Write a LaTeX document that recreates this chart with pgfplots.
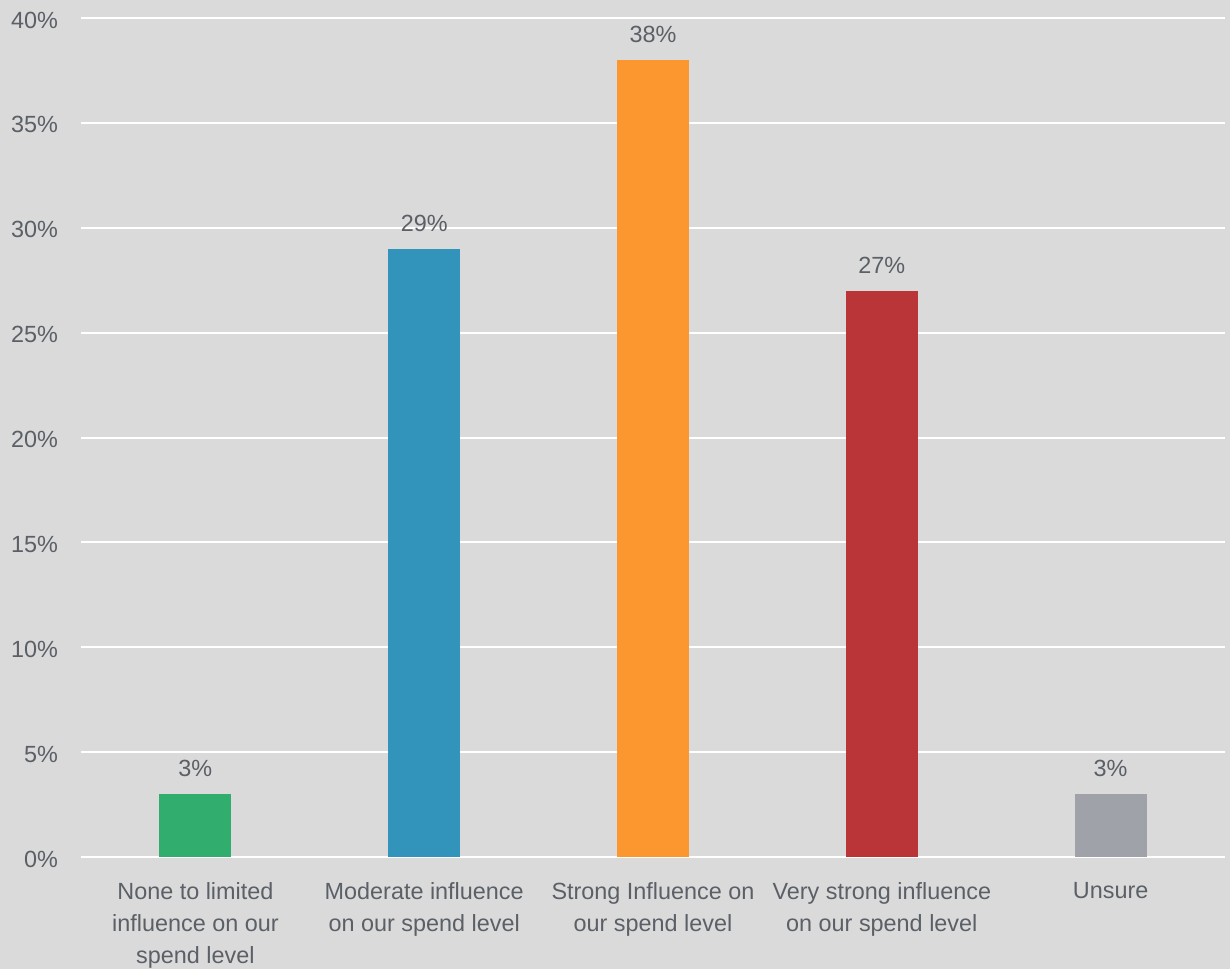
\documentclass[border=0pt]{standalone}
\usepackage{pgfplots}
\pgfplotsset{compat=1.18}
\usepackage{fontspec}
\setmainfont{Liberation Sans}
\definecolor{bg}{HTML}{DADADA}
\definecolor{txt}{HTML}{5B6067}
\definecolor{cgreen}{HTML}{31AD6E}
\definecolor{cblue}{HTML}{3294BA}
\definecolor{corange}{HTML}{FC962E}
\definecolor{cred}{HTML}{BA3537}
\definecolor{cgray}{HTML}{9FA2A8}
\begin{document}
\begin{tikzpicture}
\fill[bg] (-40.5pt,-56pt) rectangle (574.5pt,428.5pt);
\begin{axis}[
  scale only axis,
  width=572pt, height=419.5pt,
  xmin=-0.5, xmax=4.5, ymin=0, ymax=40,
  axis line style={draw=none},
  tick style={draw=none},
  ytick={0,5,...,40},
  yticklabel={\pgfmathprintnumber{\tick}\%},
  /pgf/number format/assume math mode=true,
  ymajorgrids,
  grid style={white, line width=1pt},
  xtick={0,1,2,3,4},
  xticklabels={{None to limited\\influence on our\\spend level},{Moderate influence\\on our spend level},{Strong Influence on\\our spend level},{Very strong influence\\on our spend level},{Unsure}},
  xticklabel style={align=center, font=\fontsize{11.7}{16}\selectfont, text=txt, yshift=-5pt},
  yticklabel style={font=\fontsize{11.7}{14}\selectfont, text=txt, xshift=-8pt, yshift=-1pt},
  ybar, bar width=36pt, bar shift=0pt,
  nodes near coords={\pgfmathprintnumber{\pgfplotspointmeta}\%},
  nodes near coords style={font=\fontsize{11.7}{14}\selectfont, text=txt, yshift=5pt},
  clip=false,
]
\addplot[fill=cgreen, draw=none] coordinates {(0,3)};
\addplot[fill=cblue, draw=none] coordinates {(1,29)};
\addplot[fill=corange, draw=none] coordinates {(2,38)};
\addplot[fill=cred, draw=none] coordinates {(3,27)};
\addplot[fill=cgray, draw=none] coordinates {(4,3)};
\end{axis}
\end{tikzpicture}
\end{document}
